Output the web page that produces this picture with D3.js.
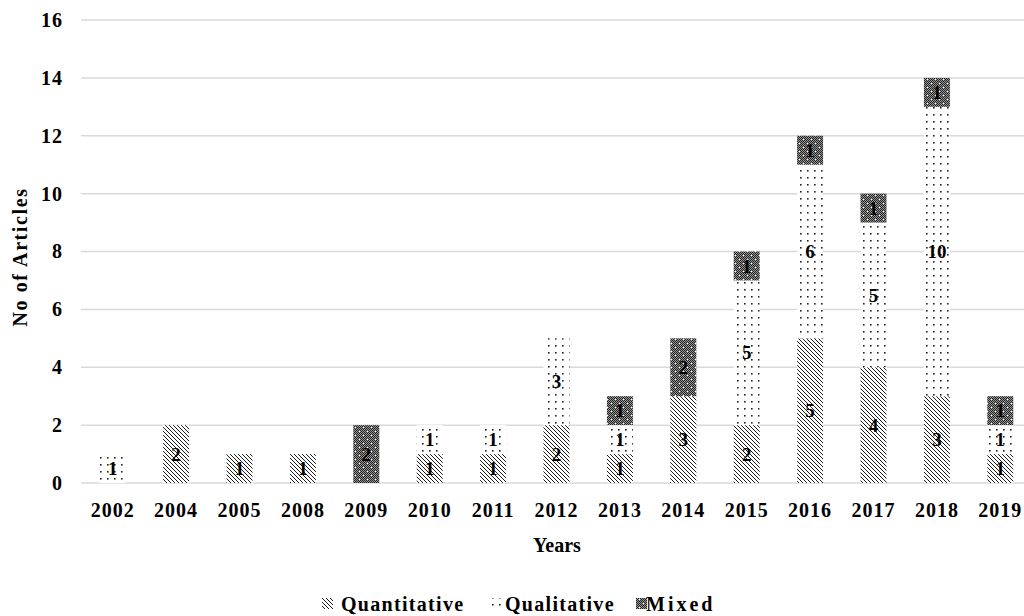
<!DOCTYPE html>
<html>
<head>
<meta charset="utf-8">
<script src="https://cdn.jsdelivr.net/npm/d3@7"></script>
<style>
  body { margin: 0; background: #fff; }
  text { font-family: "Liberation Serif", "Times New Roman", serif; font-weight: bold; fill: #000; }
</style>
</head>
<body>
<div id="chart"></div>
<script>
// data
const years = ["2002", "2004", "2005", "2008", "2009", "2010", "2011", "2012", "2013", "2014", "2015", "2016", "2017", "2018", "2019"];
const quantitative = [0, 2, 1, 1, 0, 1, 1, 2, 1, 3, 2, 5, 4, 3, 1];
const qualitative = [1, 0, 0, 0, 0, 1, 1, 3, 1, 0, 5, 6, 5, 10, 1];
const mixed = [0, 0, 0, 0, 2, 0, 0, 0, 1, 2, 1, 1, 1, 1, 1];
const seriesNames = ["Quantitative", "Qualitative", "Mixed"];
const yTicks = [0, 2, 4, 6, 8, 10, 12, 14, 16];

const width = 1024, height = 616;
const margin = { top: 20, right: -8, bottom: 133, left: 81 };

const svg = d3.select('#chart').append('svg')
    .attr('width', width)
    .attr('height', height);

// patterns
const defs = svg.append('defs');
const pQuant = defs.append('pattern').attr('id', 'p-quant')
    .attr('patternUnits', 'userSpaceOnUse').attr('width', 4).attr('height', 4);
pQuant.append('rect').attr('width', 4).attr('height', 4).attr('fill', '#fff');
pQuant.append('path').attr('d', 'M-1,-1L5,5M-1,3L1,5M3,-1L5,1')
    .attr('stroke', '#111').attr('stroke-width', 0.95);

const pQual = defs.append('pattern').attr('id', 'p-qual')
    .attr('patternUnits', 'userSpaceOnUse').attr('width', 7).attr('height', 7);
pQual.append('rect').attr('width', 7).attr('height', 7).attr('fill', '#fff');
pQual.append('rect').attr('x', 2).attr('y', 2).attr('width', 1.6).attr('height', 1.6).attr('fill', '#222');

// mixed: fine grey checkerboard with white specks
const pMixed = defs.append('pattern').attr('id', 'p-mixed')
    .attr('patternUnits', 'userSpaceOnUse').attr('width', 8).attr('height', 8);
pMixed.append('rect').attr('width', 8).attr('height', 8).attr('fill', '#969696');
let checker = '';
for (let i = 0; i < 8; i++) {
    for (let j = 0; j < 8; j++) {
        if ((i + j) % 2 === 0) checker += `M${i},${j}h1v1h-1z`;
    }
}
pMixed.append('path').attr('d', checker).attr('fill', '#222');
pMixed.append('rect').attr('x', 3).attr('y', 3).attr('width', 1).attr('height', 1).attr('fill', '#fff');
pMixed.append('rect').attr('x', 7).attr('y', 7).attr('width', 1).attr('height', 1).attr('fill', '#fff');

const fills = ['url(#p-quant)', 'url(#p-qual)', 'url(#p-mixed)'];

const x = d3.scaleBand()
    .domain(years)
    .range([margin.left, width - margin.right])
    .paddingInner(0.59)
    .paddingOuter(0.295);

const y = d3.scaleLinear()
    .domain([0, 16])
    .range([483, margin.top]);

// gridlines
svg.append('g')
    .selectAll('line')
    .data(yTicks)
    .enter()
    .append('line')
    .attr('x1', margin.left)
    .attr('x2', width)
    .attr('y1', d => y(d))
    .attr('y2', d => y(d))
    .attr('stroke', '#d9d9d9')
    .attr('stroke-width', 1.5);

// y axis labels
const yAxis = svg.append('g')
    .attr('transform', `translate(63,0)`)
    .call(d3.axisLeft(y).tickValues(yTicks).tickSize(0).tickPadding(0));
yAxis.select('.domain').remove();
yAxis.selectAll('text')
    .style('font-size', '20px')
    .style('letter-spacing', '1px')
    .attr('font-family', null)
    .attr('fill', '#000');

// x axis labels
const xAxis = svg.append('g')
    .attr('transform', `translate(0,${y(0)})`)
    .call(d3.axisBottom(x).tickSize(0).tickPadding(0));
xAxis.select('.domain').remove();
xAxis.selectAll('text')
    .attr('y', 34)
    .attr('dy', null)
    .style('font-size', '20px')
    .style('letter-spacing', '1px')
    .attr('font-family', null)
    .attr('fill', '#000');

// stacks
const table = years.map((yr, i) => ({
    year: yr,
    Quantitative: quantitative[i],
    Qualitative: qualitative[i],
    Mixed: mixed[i]
}));
const stacked = d3.stack().keys(seriesNames)(table);

const layers = svg.append('g')
    .selectAll('g')
    .data(stacked)
    .enter()
    .append('g')
    .attr('fill', (d, i) => fills[i]);

layers.selectAll('rect')
    .data(d => d.filter(s => s[1] - s[0] > 0))
    .enter()
    .append('rect')
    .attr('x', d => x(d.data.year))
    .attr('width', x.bandwidth())
    .attr('y', d => y(d[1]))
    .attr('height', d => y(d[0]) - y(d[1]));

// value labels
layers.selectAll('text')
    .data(d => d.filter(s => s[1] - s[0] > 0))
    .enter()
    .append('text')
    .attr('x', d => x(d.data.year) + x.bandwidth() / 2)
    .attr('y', d => (y(d[0]) + y(d[1])) / 2)
    .attr('dy', '0.35em')
    .attr('text-anchor', 'middle')
    .style('font-size', '19px')
    .text(d => d[1] - d[0]);

// axis titles
svg.append('text')
    .attr('transform', `translate(27,257) rotate(-90)`)
    .attr('text-anchor', 'middle')
    .style('font-size', '20px')
    .style('letter-spacing', '1.6px')
    .text('No of Articles');

svg.append('text')
    .attr('x', 557)
    .attr('y', 552)
    .attr('text-anchor', 'middle')
    .style('font-size', '20px')
    .text('Years');

// legend
const legendItems = [
    { name: 'Quantitative', x: 322, tx: 341 },
    { name: 'Qualitative', x: 492, tx: 505 },
    { name: 'Mixed', x: 636, tx: 646 }
];
const legend = svg.append('g');
legendItems.forEach((item, i) => {
    legend.append('rect')
        .attr('x', item.x)
        .attr('y', 598)
        .attr('width', 11)
        .attr('height', 11)
        .attr('fill', fills[i]);
    legend.append('text')
        .attr('x', item.tx)
        .attr('y', 611)
        .style('font-size', '20px')
        .style('letter-spacing', i === 2 ? '3px' : '1.3px')
        .text(item.name);
});
</script>
</body>
</html>
